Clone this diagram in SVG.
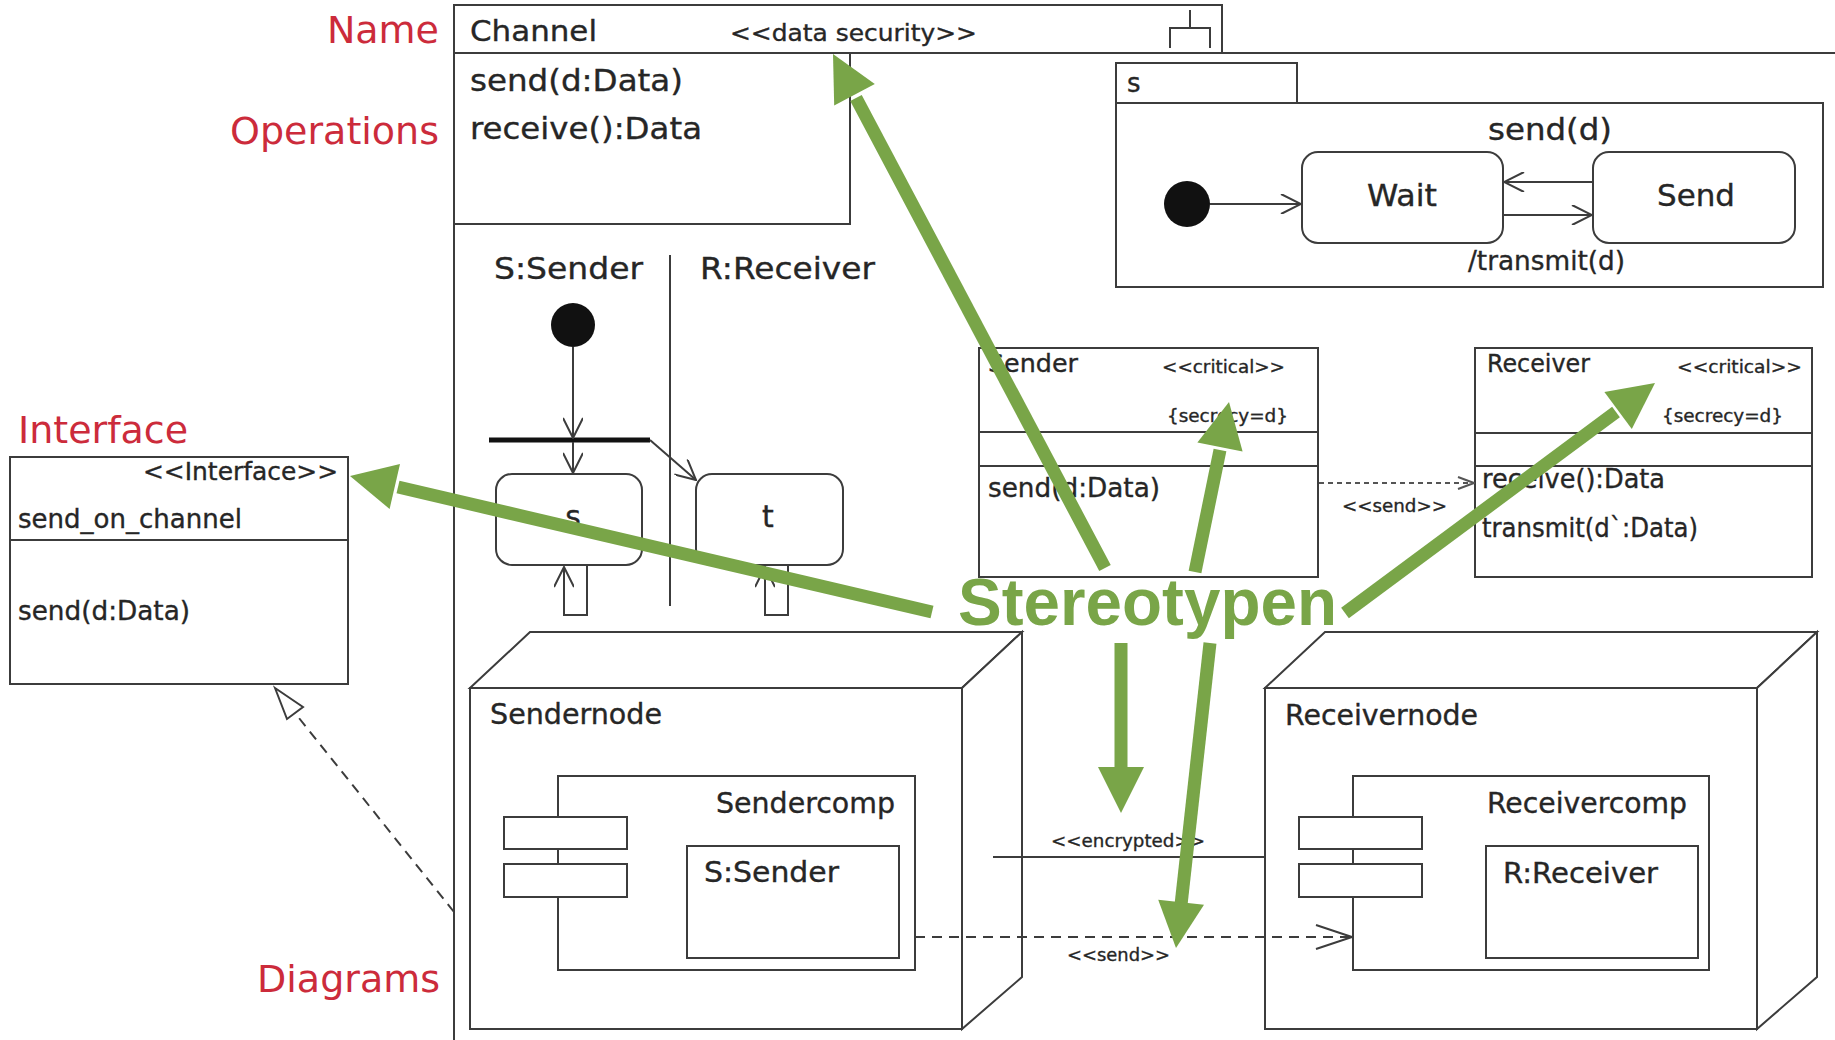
<svg xmlns="http://www.w3.org/2000/svg" width="1835" height="1040" viewBox="0 0 1835 1040">
  <style>
    .t { font-family: "DejaVu Sans", Verdana, sans-serif; fill: #262626; stroke: #262626; stroke-width: 0.35px; }
    .red { font-family: "DejaVu Sans", Verdana, sans-serif; fill: #cc2b3b; font-size: 38px; }
    .ln { stroke: #3c3c3c; stroke-width: 2; fill: none; }
    .box { fill: #ffffff; stroke: #3c3c3c; stroke-width: 2; }
    .dash { stroke: #3c3c3c; stroke-width: 2; fill: none; stroke-dasharray: 10 7; }
    .dot { stroke: #555555; stroke-width: 2; fill: none; stroke-dasharray: 5 4; }
    .g { stroke: #79a548; stroke-width: 13; fill: none; }
    .gh { fill: #79a548; }
    .big { font-family: "Liberation Sans", Arial, sans-serif; font-weight: bold; font-size: 66px; fill: #79a548; }
  </style>
  <defs>
    <marker id="arr" viewBox="0 0 22 20" refX="21" refY="10" markerWidth="22" markerHeight="20" markerUnits="userSpaceOnUse" orient="auto">
      <path d="M1,0 L21,10 L1,20" fill="none" stroke="#3c3c3c" stroke-width="2"/>
    </marker>
    <marker id="arrS" viewBox="0 0 18 14" refX="17" refY="7" markerWidth="18" markerHeight="14" markerUnits="userSpaceOnUse" orient="auto">
      <path d="M1,1 L17,7 L1,13" fill="none" stroke="#555555" stroke-width="2"/>
    </marker>
    <marker id="arrL" viewBox="0 0 38 26" refX="37" refY="13" markerWidth="38" markerHeight="26" markerUnits="userSpaceOnUse" orient="auto">
      <path d="M1,1 L37,13 L1,25" fill="none" stroke="#3c3c3c" stroke-width="2"/>
    </marker>
  </defs>
  <rect width="1835" height="1040" fill="#ffffff"/>

  <!-- side labels -->
  <g id="labels">
    <text class="red" x="439" y="43" text-anchor="end">Name</text>
    <text class="red" x="439" y="144" text-anchor="end">Operations</text>
    <text class="red" x="18" y="443">Interface</text>
    <text class="red" x="440" y="992" text-anchor="end">Diagrams</text>
  </g>

  <!-- Channel class with its large body frame -->
  <g id="channel">
    <line class="ln" x1="454" y1="5" x2="454" y2="1040"/>
    <line class="ln" x1="454" y1="53" x2="1835" y2="53"/>
    <rect class="box" x="454" y="5" width="768" height="48"/>
    <path class="ln" d="M1190,10 V28 M1170,48 V28 H1210 V48"/>
    <path class="ln" d="M850,53 V224 H454"/>
    <text class="t" x="470" y="41" font-size="29" textLength="127" lengthAdjust="spacingAndGlyphs">Channel</text>
    <text class="t" x="730" y="41" font-size="23" textLength="247" lengthAdjust="spacingAndGlyphs">&lt;&lt;data security&gt;&gt;</text>
    <text class="t" x="470" y="91" font-size="30" textLength="213" lengthAdjust="spacingAndGlyphs">send(d:Data)</text>
    <text class="t" x="470" y="139" font-size="30" textLength="232" lengthAdjust="spacingAndGlyphs">receive():Data</text>
  </g>

  <!-- state machine s -->
  <g id="statemachine">
    <rect class="box" x="1116" y="63" width="181" height="40"/>
    <rect class="box" x="1116" y="103" width="707" height="184"/>
    <text class="t" x="1127" y="92" font-size="26">s</text>
    <circle cx="1187" cy="204" r="23" fill="#111111"/>
    <rect class="box" x="1302" y="152" width="201" height="91" rx="16"/>
    <rect class="box" x="1593" y="152" width="202" height="91" rx="16"/>
    <text class="t" x="1367" y="206" font-size="30" textLength="70" lengthAdjust="spacingAndGlyphs">Wait</text>
    <text class="t" x="1657" y="206" font-size="30" textLength="78" lengthAdjust="spacingAndGlyphs">Send</text>
    <text class="t" x="1488" y="140" font-size="30" textLength="124" lengthAdjust="spacingAndGlyphs">send(d)</text>
    <text class="t" x="1468" y="270" font-size="26" textLength="157" lengthAdjust="spacingAndGlyphs">/transmit(d)</text>
  </g>

  <!-- activity diagram -->
  <g id="activity">
    <text class="t" x="494" y="279" font-size="30" textLength="149" lengthAdjust="spacingAndGlyphs">S:Sender</text>
    <text class="t" x="700" y="279" font-size="30" textLength="175" lengthAdjust="spacingAndGlyphs">R:Receiver</text>
    <line class="ln" x1="670" y1="255" x2="670" y2="606"/>
    <circle cx="573" cy="325" r="22" fill="#111111"/>
    <line x1="489" y1="440" x2="650" y2="440" stroke="#111111" stroke-width="5"/>
    <rect class="box" x="496" y="474" width="146" height="91" rx="16"/>
    <rect class="box" x="696" y="474" width="147" height="91" rx="16"/>
    <text class="t" x="573" y="527" font-size="30" text-anchor="middle">s</text>
    <text class="t" x="768" y="527" font-size="30" text-anchor="middle">t</text>
  </g>

  <!-- Interface class -->
  <g id="interface">
    <rect class="box" x="10" y="457" width="338" height="227"/>
    <line class="ln" x1="10" y1="540" x2="348" y2="540"/>
    <text class="t" x="143" y="480" font-size="24" textLength="195" lengthAdjust="spacingAndGlyphs">&lt;&lt;Interface&gt;&gt;</text>
    <text class="t" x="18" y="528" font-size="26" textLength="224" lengthAdjust="spacingAndGlyphs">send_on_channel</text>
    <text class="t" x="18" y="620" font-size="26" textLength="172" lengthAdjust="spacingAndGlyphs">send(d:Data)</text>
  </g>

  <!-- Sender class -->
  <g id="sender">
    <rect class="box" x="979" y="348" width="339" height="229"/>
    <line class="ln" x1="979" y1="432" x2="1318" y2="432"/>
    <line class="ln" x1="979" y1="466" x2="1318" y2="466"/>
    <text class="t" x="988" y="372" font-size="25" textLength="90" lengthAdjust="spacingAndGlyphs">Sender</text>
    <text class="t" x="1162" y="373" font-size="18" textLength="123" lengthAdjust="spacingAndGlyphs">&lt;&lt;critical&gt;&gt;</text>
    <text class="t" x="1167" y="422" font-size="18" textLength="121" lengthAdjust="spacingAndGlyphs">{secrecy=d}</text>
    <text class="t" x="988" y="497" font-size="26" textLength="172" lengthAdjust="spacingAndGlyphs">send(d:Data)</text>
  </g>

  <!-- Receiver class -->
  <g id="receiver">
    <rect class="box" x="1475" y="348" width="337" height="229"/>
    <line class="ln" x1="1475" y1="433" x2="1812" y2="433"/>
    <line class="ln" x1="1475" y1="466" x2="1812" y2="466"/>
    <text class="t" x="1487" y="372" font-size="25" textLength="103" lengthAdjust="spacingAndGlyphs">Receiver</text>
    <text class="t" x="1677" y="373" font-size="18" textLength="125" lengthAdjust="spacingAndGlyphs">&lt;&lt;critical&gt;&gt;</text>
    <text class="t" x="1662" y="422" font-size="18" textLength="121" lengthAdjust="spacingAndGlyphs">{secrecy=d}</text>
    <text class="t" x="1482" y="488" font-size="26" textLength="183" lengthAdjust="spacingAndGlyphs">receive():Data</text>
    <text class="t" x="1482" y="537" font-size="26" textLength="216" lengthAdjust="spacingAndGlyphs">transmit(d`:Data)</text>
  </g>

  <!-- Sendernode -->
  <g id="sendernode">
    <path class="box" d="M470,688 L530,632 H1022 L962,688 Z"/>
    <path class="box" d="M962,688 L1022,632 V977 L962,1029 Z"/>
    <rect class="box" x="470" y="688" width="492" height="341"/>
    <text class="t" x="490" y="724" font-size="28" textLength="172" lengthAdjust="spacingAndGlyphs">Sendernode</text>
    <rect class="box" x="558" y="776" width="357" height="194"/>
    <rect class="box" x="504" y="817" width="123" height="32"/>
    <rect class="box" x="504" y="864" width="123" height="33"/>
    <text class="t" x="716" y="813" font-size="28" textLength="179" lengthAdjust="spacingAndGlyphs">Sendercomp</text>
    <rect class="box" x="687" y="846" width="212" height="112"/>
    <text class="t" x="704" y="882" font-size="28" textLength="135" lengthAdjust="spacingAndGlyphs">S:Sender</text>
  </g>

  <!-- Receivernode -->
  <g id="receivernode">
    <path class="box" d="M1265,688 L1325,632 H1817 L1757,688 Z"/>
    <path class="box" d="M1757,688 L1817,632 V977 L1757,1029 Z"/>
    <rect class="box" x="1265" y="688" width="492" height="341"/>
    <text class="t" x="1285" y="725" font-size="28" textLength="193" lengthAdjust="spacingAndGlyphs">Receivernode</text>
    <rect class="box" x="1353" y="776" width="356" height="194"/>
    <rect class="box" x="1299" y="817" width="123" height="32"/>
    <rect class="box" x="1299" y="864" width="123" height="33"/>
    <text class="t" x="1487" y="813" font-size="28" textLength="200" lengthAdjust="spacingAndGlyphs">Receivercomp</text>
    <rect class="box" x="1486" y="846" width="212" height="112"/>
    <text class="t" x="1503" y="883" font-size="28" textLength="155" lengthAdjust="spacingAndGlyphs">R:Receiver</text>
  </g>

  <!-- UML connectors -->
  <g id="connectors">
    <line class="ln" x1="1210" y1="204" x2="1301" y2="204" marker-end="url(#arr)"/>
    <line class="ln" x1="1593" y1="182" x2="1504" y2="182" marker-end="url(#arr)"/>
    <line class="ln" x1="1503" y1="215" x2="1592" y2="215" marker-end="url(#arr)"/>
    <line class="ln" x1="573" y1="347" x2="573" y2="438" marker-end="url(#arr)"/>
    <line class="ln" x1="573" y1="442" x2="573" y2="473" marker-end="url(#arr)"/>
    <line class="ln" x1="650" y1="440" x2="696" y2="480" marker-end="url(#arr)"/>
    <path class="ln" d="M587,566 V615 H564 V567" marker-end="url(#arr)"/>
    <path class="ln" d="M788,566 V615 H765 V567" marker-end="url(#arr)"/>
    <line class="dot" x1="1319" y1="483" x2="1474" y2="483" marker-end="url(#arrS)"/>
    <text class="t" x="1342" y="512" font-size="18" textLength="105" lengthAdjust="spacingAndGlyphs">&lt;&lt;send&gt;&gt;</text>
    <line class="ln" x1="993" y1="857" x2="1265" y2="857"/>
    <text class="t" x="1051" y="847" font-size="18" textLength="154" lengthAdjust="spacingAndGlyphs">&lt;&lt;encrypted&gt;&gt;</text>
    <line class="dash" x1="915" y1="937" x2="1352" y2="937" marker-end="url(#arrL)"/>
    <text class="t" x="1067" y="961" font-size="18" textLength="103" lengthAdjust="spacingAndGlyphs">&lt;&lt;send&gt;&gt;</text>
    <line class="dash" x1="454" y1="912" x2="295" y2="713"/>
    <polygon points="275,688 303,707 287,719" fill="#ffffff" stroke="#3c3c3c" stroke-width="2"/>
  </g>

  <!-- green annotation arrows -->
  <g id="annotations">
    <line class="g" x1="1105" y1="568" x2="856" y2="98"/>
    <polygon class="gh" points="833,54 874.8,83.9 834.2,105.5"/>
    <line class="g" x1="932" y1="612" x2="398" y2="487"/>
    <polygon class="gh" points="350,476 400,464 389.6,509"/>
    <line class="g" x1="1195" y1="572" x2="1220" y2="450"/>
    <polygon class="gh" points="1229,402 1242.6,451.6 1197.4,442.6"/>
    <line class="g" x1="1345" y1="613" x2="1616" y2="412"/>
    <polygon class="gh" points="1655,383 1631.8,428.9 1604.4,391.9"/>
    <line class="g" x1="1121" y1="643" x2="1121" y2="770"/>
    <polygon class="gh" points="1121,813 1144,767 1098,767"/>
    <line class="g" x1="1210" y1="643" x2="1181" y2="905"/>
    <polygon class="gh" points="1176,948 1204,904.8 1158.2,899.8"/>
    <text class="big" x="958" y="625" textLength="379" lengthAdjust="spacingAndGlyphs">Stereotypen</text>
  </g>
</svg>
